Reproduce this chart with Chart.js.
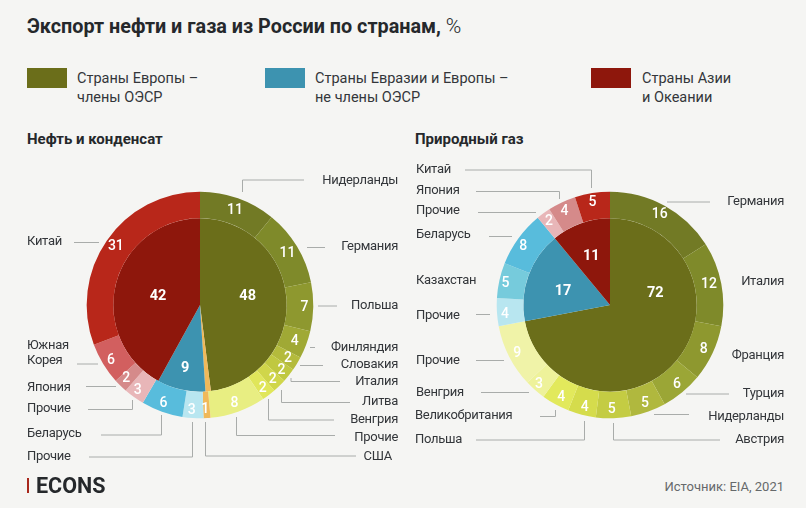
<!DOCTYPE html>
<html lang="ru">
<head>
<meta charset="utf-8">
<title>Экспорт нефти и газа из России по странам</title>
<script src="https://cdn.jsdelivr.net/npm/chart.js@4"></script>
<style>
  html, body { margin: 0; padding: 0; background: #f5f5f3; }
  body { width: 806px; height: 508px; position: relative; overflow: hidden; font-family: Roboto, sans-serif; color: #222; }
  .t { position: absolute; white-space: nowrap; line-height: 19px; }
  h1 { position: absolute; margin: 0; left: 27px; top: 13px; font-size: 19.8px; line-height: 26px; font-weight: 700; white-space: nowrap; color: #25282b; }
  h1 span { font-weight: 300; font-size: 21px; }
  h2 { position: absolute; margin: 0; top: 130px; font-size: 15px; line-height: 18px; font-weight: 700; white-space: nowrap; color: #25282b; }
  .sw { position: absolute; top: 68px; width: 40px; height: 20px; }
  .legend { font-size: 14.5px; color: #33363a; top: 69px; }
  canvas { position: absolute; top: 135px; }
  .logo { position: absolute; left: 36px; top: 475px; font-size: 21.5px; line-height: 22px; font-weight: 700; color: #25282b; }
  .bar { position: absolute; left: 27px; top: 478px; width: 2px; height: 15px; background: #a8281c; }
  .src { position: absolute; right: 22px; top: 478px; font-size: 13px; line-height: 18px; color: #66696b; }
</style>
</head>
<body>
<h1>Экспорт нефти и газа из России по странам, <span>%</span></h1>

<div class="sw" style="left:27px;background:#6b6e1a"></div>
<div class="t legend" style="left:77px">Страны Европы –<br>члены ОЭСР</div>
<div class="sw" style="left:265px;background:#3d93b0"></div>
<div class="t legend" style="left:315px">Страны Евразии и Европы –<br>не члены ОЭСР</div>
<div class="sw" style="left:591px;background:#8e170c"></div>
<div class="t legend" style="left:642px">Страны Азии<br>и Океании</div>

<h2 style="left:27px">Нефть и конденсат</h2>
<h2 style="left:415px">Природный газ</h2>

<canvas id="oil" width="400" height="340" style="left:0"></canvas>
<canvas id="gas" width="392" height="340" style="left:414px"></canvas>

<div class="bar"></div>
<div class="logo">ECONS</div>
<div class="src">Источник: EIA, 2021</div>

<script>
// нефть
const oilGroups = ['Европа ОЭСР', 'США', 'Евразия и Европа', 'Азия и Океания']
const oilGroupValues = [48, 1, 9, 42]
const oilCountries = ['Нидерланды', 'Германия', 'Польша', 'Финляндия', 'Словакия', 'Италия', 'Литва', 'Венгрия', 'Прочие', 'США', 'Прочие', 'Беларусь', 'Прочие', 'Япония', 'Южная\nКорея', 'Китай']
const oilValues = [11, 11, 7, 4, 2, 2, 2, 2, 8, 1, 3, 6, 3, 2, 6, 31]

// газ
const gasGroups = ['Европа ОЭСР', 'Евразия и Европа', 'Азия и Океания']
const gasGroupValues = [72, 17, 11]
const gasCountries = ['Германия', 'Италия', 'Франция', 'Турция', 'Нидерланды', 'Австрия', 'Польша', 'Великобритания', 'Венгрия', 'Прочие', 'Прочие', 'Казахстан', 'Беларусь', 'Прочие', 'Япония', 'Китай']
const gasValues = [16, 12, 8, 6, 5, 5, 4, 4, 3, 9, 4, 5, 8, 2, 4, 5]

// цвета
const oilGroupColors = ['#6b6e1a', '#f0b95a', '#3d93b0', '#8e170c']
const oilColors = ['#727a25', '#7f8a2a', '#8e982f', '#a0a935', '#b4bb3c', '#c0c840', '#d0d64a', '#e0e65a', '#e8ee82', '#f0b95a', '#b8e6f0', '#58bcdc', '#e8b6b8', '#d58a8a', '#d25f5f', '#b8271a']
const gasGroupColors = ['#6b6e1a', '#3d93b0', '#8e170c']
const gasColors = ['#727a25', '#7f8a2a', '#8e982f', '#9ba636', '#b0b83e', '#c4cc43', '#d5dc4c', '#e2e95c', '#eef29a', '#f0f3a8', '#b8e6f0', '#76cbdc', '#58bcdc', '#e8b6b8', '#d58a8a', '#b8271a']

// подписи стран: [x, y, выравнивание], сноски: ломаные в координатах страницы
const oilTextPos = [
  [398, 180, 'right'], [398, 246, 'right'], [398, 305, 'right'], [398, 347, 'right'], [398, 364, 'right'], [398, 381, 'right'], [398, 401, 'right'], [398, 419, 'right'], [398, 437, 'right'], [392, 456, 'right'],
  [27, 456, 'left'], [27, 433, 'left'], [27, 408, 'left'], [27, 387, 'left'], [27, 345, 'left'], [27, 241, 'left']
]
const oilLines = [
  [[242.5, 192], [242.5, 180], [304, 180]], [[307, 247.5], [325, 247.5]], [[318, 306], [337, 306]], [[310, 347.5], [315, 347.5]], [[300, 365.5], [323, 365.5]],
  [[291, 378], [291, 381.5], [340, 381.5]], [[281.5, 390], [281.5, 402.5], [350, 402.5]], [[268.5, 399], [268.5, 420], [334, 420]], [[236.5, 417], [236.5, 435.5], [335, 435.5]], [[205.5, 422], [205.5, 456], [356, 456]],
  [[192.5, 422], [192.5, 457], [89, 457]], [[161.5, 415], [161.5, 435], [101, 435]], [[132.5, 400], [132.5, 409.5], [88, 409.5]], [[116, 386.5], [86, 386.5]], [[98, 364], [77, 364]], [[99, 242.5], [74, 242.5]]
]
const gasTextPos = [
  [784, 201, 'right'], [784, 281, 'right'], [784, 355, 'right'], [784, 393, 'right'], [784, 416, 'right'], [784, 439, 'right'],
  [415, 439, 'left'], [415, 415, 'left'], [416, 392, 'left'], [416, 360, 'left'], [416, 315, 'left'], [416, 280, 'left'], [416, 234, 'left'], [416, 210, 'left'], [416, 190, 'left'], [416, 169, 'left']
]
const gasLines = [
  [[667, 202], [710, 202]], null, null, [[686, 394], [729, 394]], [[654, 414.5], [689, 414.5]], [[613.5, 423], [613.5, 440], [720, 440]],
  [[584.5, 421], [584.5, 440], [476, 440]], [[555.5, 410], [555.5, 416.5], [540, 416.5]], [[529, 392.5], [481, 392.5]], [[504, 360.5], [476, 360.5]], [[490, 314.5], [476, 314.5]], null,
  [[512, 236.5], [489, 236.5]], [[536, 212.5], [478, 212.5]], [[559.5, 199], [559.5, 191.5], [476, 191.5]], [[591.5, 188], [591.5, 170], [465, 170]]
]

// сдвиг значений от середины сектора
const oilNudge = [[1.5, -1.5], [2, -1.5], [4.5, -0.5], [1, 0], [2.5, 0.5], [3, 1.5], [2.5, 2], [2, 2.5], [1, 2.5], [-1, 3.5], [-2, 4.5], [-3, 2.5], [-4, 2.7], [-3.5, 0.8], [-3.5, 2.2], [-2, -3]]
const oilGroupNudge = [[4.4, -7.3], null, [-5.5, 19.4], [0, 1]]
const gasNudge = [[1.5, -4], [0.8, -3.6], [3.2, 0], [3.3, 0.7], [1, 2.6], [-1.4, 3.3], [-0.4, 4], [-0.5, 3], [-5, 2.7], [-3.6, 1.9], [-5.2, 1.4], [-7, -1], [-5.8, -1.5], [-2.2, -4], [-3, -5], [-2, -5]]
const gasGroupNudge = [[11.9, -40.3], [-6.2, -0.3], [-4, -9.5]]

const calloutPlugin = {
    id: 'callouts',
    afterDatasetsDraw(chart, args, opts) {
        const ctx = chart.ctx
        const left = chart.canvas.offsetLeft
        const top = chart.canvas.offsetTop
        ctx.save()

        // линии сносок
        ctx.strokeStyle = '#a9acaa'
        ctx.lineWidth = 1
        opts.lines.forEach(line => {
            if (!line) return
            ctx.beginPath()
            line.forEach((p, i) => {
                if (i === 0) ctx.moveTo(p[0] - left, p[1] - top)
                else ctx.lineTo(p[0] - left, p[1] - top)
            })
            ctx.stroke()
        })

        // названия стран
        ctx.fillStyle = '#33363a'
        ctx.font = '400 13px Roboto'
        ctx.letterSpacing = '-0.3px'
        ctx.textBaseline = 'middle'
        opts.names.forEach((name, i) => {
            const pos = opts.textPos[i]
            ctx.textAlign = pos[2]
            name.split('\n').forEach((row, k) => {
                ctx.fillText(row, pos[0] - left, pos[1] - top + 1 + k * 15)
            })
        })

        // значения в секторах
        ctx.letterSpacing = '0px'
        ctx.textAlign = 'center'
        ctx.fillStyle = '#ffffff'
        chart.data.datasets.forEach((ds, d) => {
            ctx.font = d === 0 ? '500 14px Roboto' : '700 14.5px Roboto'
            const nudge = d === 0 ? opts.nudge : opts.groupNudge
            chart.getDatasetMeta(d).data.forEach((arc, i) => {
                if (!nudge[i]) return
                const p = arc.tooltipPosition()
                ctx.fillText(ds.data[i], p.x + nudge[i][0], p.y + nudge[i][1] + 1.5)
            })
        })
        ctx.restore()
    }
}

function makeChart(id, names, values, colors, groups, groupValues, groupColors, callouts) {
    return new Chart(document.getElementById(id), {
        type: 'doughnut',
        data: {
            labels: names,
            datasets: [
                { data: values, backgroundColor: colors, borderWidth: 0, weight: 26.6 },
                { data: groupValues, backgroundColor: groupColors, borderWidth: 0, weight: 86.7 }
            ]
        },
        options: {
            responsive: false,
            animation: false,
            cutout: 0,
            radius: 113.3,
            plugins: {
                legend: { display: false },
                tooltip: { enabled: false },
                callouts: callouts
            }
        },
        plugins: [calloutPlugin]
    })
}

makeChart('oil', oilCountries, oilValues, oilColors, oilGroups, oilGroupValues, oilGroupColors,
    { names: oilCountries, textPos: oilTextPos, lines: oilLines, nudge: oilNudge, groupNudge: oilGroupNudge })
makeChart('gas', gasCountries, gasValues, gasColors, gasGroups, gasGroupValues, gasGroupColors,
    { names: gasCountries, textPos: gasTextPos, lines: gasLines, nudge: gasNudge, groupNudge: gasGroupNudge })
</script>
</body>
</html>
